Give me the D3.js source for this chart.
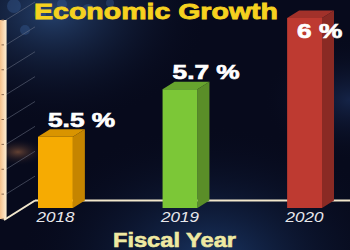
<!DOCTYPE html>
<html><head><meta charset="utf-8">
<script src="https://cdn.jsdelivr.net/npm/d3@7"></script>
<style>html,body{margin:0;padding:0;background:#070a1c;overflow:hidden}svg{display:block}</style>
</head><body>
<svg id="c" width="350" height="250"></svg>
<script>
const years = ["2018", "2019", "2020"];
const growth = [5.5, 5.7, 6.0];
const labels = ["5.5 %", "5.7 %", "6 %"];
const gridTicks = [5.2, 5.3, 5.4, 5.5, 5.6, 5.7, 5.8, 5.9, 6.0];
const title = "Economic Growth";
const xTitle = "Fiscal Year";

const frontCol = ["#f6ab02", "#7cc737", "#be3a31"];
const sideCol  = ["#c58500", "#5a8e28", "#8a2a24"];
const topCol   = ["#d99400", "#67a42e", "#a2312a"];

const svg = d3.select("#c");
const W = 350, H = 250;
const defs = svg.append("defs");

// background
const g1 = defs.append("radialGradient").attr("id","glowTL").attr("cx","0.15").attr("cy","0.05").attr("r","0.45");
g1.append("stop").attr("offset","0").attr("stop-color","#2a4a7a").attr("stop-opacity",0.85);
g1.append("stop").attr("offset","1").attr("stop-color","#070a1c").attr("stop-opacity",0);
const g2 = defs.append("radialGradient").attr("id","glowB").attr("cx","0.6").attr("cy","1.05").attr("r","0.55");
g2.append("stop").attr("offset","0").attr("stop-color","#1d3d70").attr("stop-opacity",0.9);
g2.append("stop").attr("offset","1").attr("stop-color","#070a1c").attr("stop-opacity",0);
const g3 = defs.append("radialGradient").attr("id","glowR").attr("cx","1").attr("cy","0.4").attr("r","0.25");
g3.append("stop").attr("offset","0").attr("stop-color","#1b2f5a").attr("stop-opacity",0.7);
g3.append("stop").attr("offset","1").attr("stop-color","#070a1c").attr("stop-opacity",0);
const g4 = defs.append("radialGradient").attr("id","glowO").attr("cx","0.5").attr("cy","0.5").attr("r","0.5");
g4.append("stop").attr("offset","0").attr("stop-color","#c0784a").attr("stop-opacity",0.5);
g4.append("stop").attr("offset","1").attr("stop-color","#070a1c").attr("stop-opacity",0);
const wallG = defs.append("linearGradient").attr("id","wall").attr("x1",0).attr("x2",1).attr("y1",0).attr("y2",0);
wallG.append("stop").attr("offset","0").attr("stop-color","#f5c08a");
wallG.append("stop").attr("offset","1").attr("stop-color","#feebcf");

svg.append("rect").attr("width",W).attr("height",H).attr("fill","#070a1c");
svg.append("rect").attr("width",W).attr("height",H).attr("fill","url(#glowTL)");
svg.append("rect").attr("width",W).attr("height",H).attr("fill","url(#glowB)");
svg.append("rect").attr("width",W).attr("height",H).attr("fill","url(#glowR)");
svg.append("ellipse").attr("cx",18).attr("cy",152).attr("rx",28).attr("ry",14).attr("fill","url(#glowO)");
// bokeh dots top-left
const bokeh = [[14,6,7],[40,14,6],[62,4,5],[88,10,6],[25,30,5],[110,3,4]];
svg.selectAll(".bk").data(bokeh).join("circle").attr("cx",d=>d[0]).attr("cy",d=>d[1]).attr("r",d=>d[2])
  .attr("fill","#3d64a0").attr("opacity",0.35);

// scales
const x = d3.scaleBand().domain(years).range([38, 322]).paddingInner(0.72).paddingOuter(0);
const y = d3.scaleLinear().domain([5.2, 6.0]).range([208, 18]);
const wallY = d3.scaleLinear().domain(y.domain()).range([219, 20]);
const depthBar = {dx: 12, dy: -7.5};
const depthWall = {dx: 29, dy: -18};
const wallX = 6;

// wall gridlines (going back)
svg.selectAll(".grid").data(gridTicks).join("line")
  .attr("x1", wallX).attr("y1", d => wallY(d))
  .attr("x2", wallX + depthWall.dx).attr("y2", d => wallY(d) + depthWall.dy)
  .attr("stroke", "#7a8294").attr("stroke-width", 0.8).attr("opacity", 0.6);

// wall
svg.append("rect").attr("x",0).attr("y",wallY(6.0)).attr("width",wallX).attr("height",wallY(5.2)-wallY(6.0))
  .attr("fill","url(#wall)");
svg.append("line").attr("x1",wallX).attr("x2",wallX).attr("y1",wallY(6.0)).attr("y2",wallY(5.2))
  .attr("stroke","#fbe9cc").attr("stroke-width",1.2);
svg.selectAll(".wt").data(gridTicks).join("line")
  .attr("x1", 1.5).attr("x2", 4).attr("y1", d => wallY(d)).attr("y2", d => wallY(d))
  .attr("stroke","#8a6a50").attr("stroke-width",1);

// floor lines
const floorBackY = y(5.2) + depthBar.dy;
svg.append("line").attr("x1", wallX + depthWall.dx).attr("x2", W).attr("y1", floorBackY).attr("y2", floorBackY)
  .attr("stroke","#f2e7cc").attr("stroke-width",2);
svg.append("line").attr("x1", wallX - 2).attr("y1", wallY(5.2)+1).attr("x2", wallX + depthWall.dx).attr("y2", floorBackY)
  .attr("stroke","#f2e7cc").attr("stroke-width",2);

// bars
const data = years.map((yr,i)=>({yr, v: growth[i], lab: labels[i], i}));
const bars = svg.selectAll(".bar").data(data).join("g");
const base = y(5.2);
bars.append("path").attr("fill", d => sideCol[d.i]).attr("d", d => {
  const x1 = x(d.yr) + x.bandwidth(), t = y(d.v);
  return `M${x1},${t}L${x1+depthBar.dx},${t+depthBar.dy}L${x1+depthBar.dx},${base+depthBar.dy}L${x1},${base}Z`;
});
bars.append("path").attr("fill", d => topCol[d.i]).attr("d", d => {
  const x0 = x(d.yr), x1 = x0 + x.bandwidth(), t = y(d.v);
  return `M${x0},${t}L${x0+depthBar.dx},${t+depthBar.dy}L${x1+depthBar.dx},${t+depthBar.dy}L${x1},${t}Z`;
});
bars.append("rect").attr("fill", d => frontCol[d.i])
  .attr("x", d => x(d.yr)).attr("width", x.bandwidth())
  .attr("y", d => y(d.v)).attr("height", d => base - y(d.v));

// value labels
bars.append("text")
  .attr("x", d => x(d.yr) + 10)
  .attr("y", d => { const t = y(d.v) - 10; return t < 30 ? y(d.v) + 20 : t; })
  .attr("font-family", "Liberation Sans, Arial, sans-serif").attr("font-weight", "bold")
  .attr("font-size", 20.5).attr("fill", "#ffffff").attr("stroke", "#ffffff").attr("stroke-width", 0.7)
  .text(d => d.lab)
  .each(function(){ d3.select(this).attr("textLength", this.getComputedTextLength()*1.28).attr("lengthAdjust","spacingAndGlyphs"); });

// year labels
bars.append("text")
  .attr("x", d => x(d.yr) + x.bandwidth()/2).attr("y", 222)
  .attr("text-anchor","middle")
  .attr("font-family", "Liberation Sans, Arial, sans-serif").attr("font-style","italic")
  .attr("font-size", 15.5).attr("fill", "#e8e8ec")
  .text(d => d.yr)
  .each(function(){ d3.select(this).attr("textLength", this.getComputedTextLength()*1.1).attr("lengthAdjust","spacingAndGlyphs"); });

// title
svg.append("text").attr("x", 156).attr("y", 19).attr("text-anchor","middle")
  .attr("font-family", "Liberation Sans, Arial, sans-serif").attr("font-weight","bold")
  .attr("font-size", 21.5).attr("fill", "#f6d21f").attr("stroke","#f6d21f").attr("stroke-width",0.8)
  .text(title)
  .each(function(){ d3.select(this).attr("textLength", 244).attr("lengthAdjust","spacingAndGlyphs"); });

// x title
svg.append("text").attr("x", 174.5).attr("y", 247).attr("text-anchor","middle")
  .attr("font-family", "Liberation Sans, Arial, sans-serif").attr("font-weight","bold")
  .attr("font-size", 20).attr("fill", "#efe9a2").attr("stroke","#efe9a2").attr("stroke-width",0.6)
  .text(xTitle)
  .each(function(){ d3.select(this).attr("textLength", 123).attr("lengthAdjust","spacingAndGlyphs"); });
</script>
</body></html>
